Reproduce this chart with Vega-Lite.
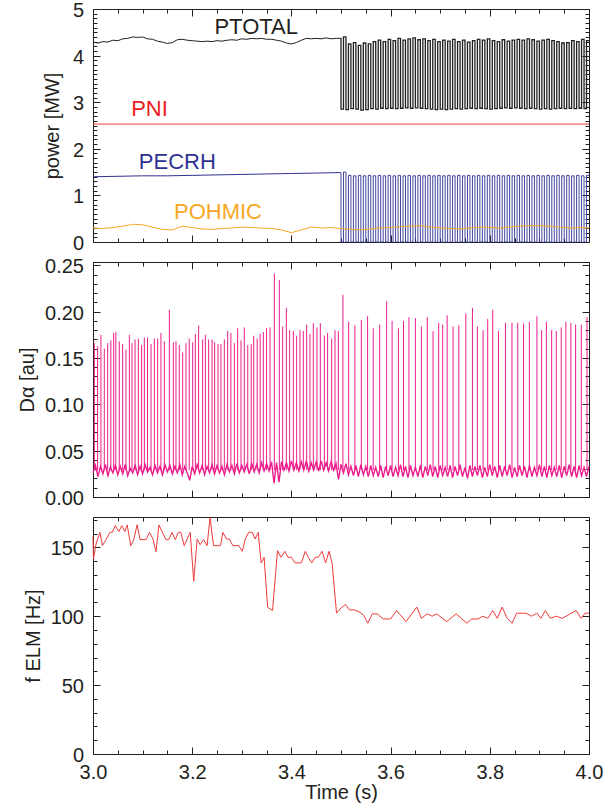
{
"$schema": "https://vega.github.io/schema/vega-lite/v6.json",
"padding": {"left": 17, "top": 0, "right": 0, "bottom": 0},
"bounds": "flush",
"spacing": 20,
"config": {
 "view": {"stroke": "#231f20", "strokeWidth": 1},
 "axis": {"labelFont": "Liberation Sans", "titleFont": "Liberation Sans", "labelFontSize": 20, "titleFontSize": 20, "titleFontWeight": "normal", "labelColor": "#231f20", "titleColor": "#231f20", "tickColor": "#231f20", "tickWidth": 1, "domain": false, "grid": false, "labelFlush": false, "labelOverlap": false},
 "text": {"font": "Liberation Sans"}
},
"datasets": {
 "ptot": [{"t":3.00,"v":4.29},{"t":3.01,"v":4.27},{"t":3.02,"v":4.30},{"t":3.03,"v":4.29},{"t":3.04,"v":4.33},{"t":3.05,"v":4.32},{"t":3.06,"v":4.36},{"t":3.07,"v":4.37},{"t":3.08,"v":4.40},{"t":3.09,"v":4.39},{"t":3.10,"v":4.40},{"t":3.11,"v":4.36},{"t":3.12,"v":4.35},{"t":3.13,"v":4.31},{"t":3.14,"v":4.29},{"t":3.15,"v":4.26},{"t":3.16,"v":4.28},{"t":3.17,"v":4.34},{"t":3.18,"v":4.35},{"t":3.19,"v":4.33},{"t":3.20,"v":4.32},{"t":3.21,"v":4.31},{"t":3.22,"v":4.30},{"t":3.23,"v":4.31},{"t":3.24,"v":4.30},{"t":3.25,"v":4.32},{"t":3.26,"v":4.31},{"t":3.27,"v":4.33},{"t":3.28,"v":4.34},{"t":3.29,"v":4.33},{"t":3.30,"v":4.36},{"t":3.31,"v":4.35},{"t":3.32,"v":4.37},{"t":3.33,"v":4.36},{"t":3.34,"v":4.37},{"t":3.35,"v":4.35},{"t":3.36,"v":4.35},{"t":3.37,"v":4.33},{"t":3.38,"v":4.31},{"t":3.39,"v":4.27},{"t":3.40,"v":4.25},{"t":3.41,"v":4.28},{"t":3.42,"v":4.33},{"t":3.43,"v":4.37},{"t":3.44,"v":4.36},{"t":3.45,"v":4.37},{"t":3.46,"v":4.36},{"t":3.47,"v":4.38},{"t":3.48,"v":4.36},{"t":3.49,"v":4.37},{"t":3.499,"v":4.37}],
 "pecrh": [{"t":3.00,"v":1.40},{"t":3.05,"v":1.41},{"t":3.10,"v":1.42},{"t":3.15,"v":1.42},{"t":3.20,"v":1.43},{"t":3.25,"v":1.44},{"t":3.30,"v":1.45},{"t":3.35,"v":1.46},{"t":3.40,"v":1.47},{"t":3.45,"v":1.48},{"t":3.499,"v":1.49}],
 "pohm": [{"t":3.00,"v":0.30},{"t":3.02,"v":0.29},{"t":3.04,"v":0.31},{"t":3.06,"v":0.34},{"t":3.08,"v":0.38},{"t":3.10,"v":0.37},{"t":3.12,"v":0.32},{"t":3.14,"v":0.27},{"t":3.16,"v":0.26},{"t":3.18,"v":0.34},{"t":3.20,"v":0.31},{"t":3.22,"v":0.28},{"t":3.24,"v":0.27},{"t":3.26,"v":0.29},{"t":3.28,"v":0.30},{"t":3.30,"v":0.32},{"t":3.32,"v":0.31},{"t":3.34,"v":0.30},{"t":3.36,"v":0.29},{"t":3.38,"v":0.26},{"t":3.40,"v":0.20},{"t":3.42,"v":0.26},{"t":3.44,"v":0.32},{"t":3.46,"v":0.30},{"t":3.48,"v":0.31},{"t":3.50,"v":0.29},{"t":3.52,"v":0.27},{"t":3.54,"v":0.26},{"t":3.56,"v":0.28},{"t":3.58,"v":0.30},{"t":3.60,"v":0.31},{"t":3.62,"v":0.33},{"t":3.64,"v":0.34},{"t":3.66,"v":0.35},{"t":3.68,"v":0.32},{"t":3.70,"v":0.30},{"t":3.72,"v":0.29},{"t":3.74,"v":0.28},{"t":3.76,"v":0.30},{"t":3.78,"v":0.32},{"t":3.80,"v":0.31},{"t":3.82,"v":0.30},{"t":3.84,"v":0.32},{"t":3.86,"v":0.34},{"t":3.88,"v":0.35},{"t":3.90,"v":0.35},{"t":3.92,"v":0.34},{"t":3.94,"v":0.32},{"t":3.96,"v":0.30},{"t":3.98,"v":0.31},{"t":4.00,"v":0.30}],
 "pni": [{"t":3.0,"v":2.53},{"t":4.0,"v":2.53}],
 "mod": [{"t":3.499,"a":4.37,"b":1.49},{"t":3.500,"a":2.85,"b":0},{"t":3.505,"a":4.40,"b":1.50},{"t":3.510,"a":2.84,"b":0},{"t":3.515,"a":4.25,"b":1.43},{"t":3.520,"a":2.86,"b":0},{"t":3.525,"a":4.28,"b":1.42},{"t":3.530,"a":2.85,"b":0},{"t":3.535,"a":4.22,"b":1.43},{"t":3.540,"a":2.83,"b":0},{"t":3.545,"a":4.27,"b":1.42},{"t":3.550,"a":2.84,"b":0},{"t":3.555,"a":4.25,"b":1.43},{"t":3.560,"a":2.86,"b":0},{"t":3.565,"a":4.30,"b":1.42},{"t":3.570,"a":2.85,"b":0},{"t":3.575,"a":4.33,"b":1.43},{"t":3.580,"a":2.87,"b":0},{"t":3.585,"a":4.30,"b":1.42},{"t":3.590,"a":2.86,"b":0},{"t":3.595,"a":4.35,"b":1.43},{"t":3.600,"a":2.87,"b":0},{"t":3.605,"a":4.32,"b":1.42},{"t":3.610,"a":2.86,"b":0},{"t":3.615,"a":4.37,"b":1.43},{"t":3.620,"a":2.87,"b":0},{"t":3.625,"a":4.33,"b":1.42},{"t":3.630,"a":2.88,"b":0},{"t":3.635,"a":4.36,"b":1.43},{"t":3.640,"a":2.87,"b":0},{"t":3.645,"a":4.38,"b":1.42},{"t":3.650,"a":2.88,"b":0},{"t":3.655,"a":4.34,"b":1.43},{"t":3.660,"a":2.87,"b":0},{"t":3.665,"a":4.36,"b":1.42},{"t":3.670,"a":2.86,"b":0},{"t":3.675,"a":4.32,"b":1.43},{"t":3.680,"a":2.85,"b":0},{"t":3.685,"a":4.35,"b":1.42},{"t":3.690,"a":2.84,"b":0},{"t":3.695,"a":4.30,"b":1.43},{"t":3.700,"a":2.85,"b":0},{"t":3.705,"a":4.33,"b":1.42},{"t":3.710,"a":2.84,"b":0},{"t":3.715,"a":4.31,"b":1.43},{"t":3.720,"a":2.85,"b":0},{"t":3.725,"a":4.35,"b":1.42},{"t":3.730,"a":2.86,"b":0},{"t":3.735,"a":4.30,"b":1.43},{"t":3.740,"a":2.85,"b":0},{"t":3.745,"a":4.33,"b":1.42},{"t":3.750,"a":2.86,"b":0},{"t":3.755,"a":4.29,"b":1.43},{"t":3.760,"a":2.87,"b":0},{"t":3.765,"a":4.32,"b":1.42},{"t":3.770,"a":2.86,"b":0},{"t":3.775,"a":4.35,"b":1.43},{"t":3.780,"a":2.87,"b":0},{"t":3.785,"a":4.33,"b":1.42},{"t":3.790,"a":2.86,"b":0},{"t":3.795,"a":4.36,"b":1.43},{"t":3.800,"a":2.85,"b":0},{"t":3.805,"a":4.32,"b":1.42},{"t":3.810,"a":2.86,"b":0},{"t":3.815,"a":4.30,"b":1.43},{"t":3.820,"a":2.87,"b":0},{"t":3.825,"a":4.34,"b":1.42},{"t":3.830,"a":2.88,"b":0},{"t":3.835,"a":4.31,"b":1.43},{"t":3.840,"a":2.87,"b":0},{"t":3.845,"a":4.33,"b":1.42},{"t":3.850,"a":2.88,"b":0},{"t":3.855,"a":4.35,"b":1.43},{"t":3.860,"a":2.87,"b":0},{"t":3.865,"a":4.33,"b":1.42},{"t":3.870,"a":2.86,"b":0},{"t":3.875,"a":4.36,"b":1.43},{"t":3.880,"a":2.87,"b":0},{"t":3.885,"a":4.34,"b":1.42},{"t":3.890,"a":2.86,"b":0},{"t":3.895,"a":4.31,"b":1.43},{"t":3.900,"a":2.85,"b":0},{"t":3.905,"a":4.33,"b":1.42},{"t":3.910,"a":2.86,"b":0},{"t":3.915,"a":4.35,"b":1.43},{"t":3.920,"a":2.85,"b":0},{"t":3.925,"a":4.32,"b":1.42},{"t":3.930,"a":2.86,"b":0},{"t":3.935,"a":4.30,"b":1.43},{"t":3.940,"a":2.87,"b":0},{"t":3.945,"a":4.27,"b":1.42},{"t":3.950,"a":2.86,"b":0},{"t":3.955,"a":4.28,"b":1.43},{"t":3.960,"a":2.87,"b":0},{"t":3.965,"a":4.32,"b":1.42},{"t":3.970,"a":2.86,"b":0},{"t":3.975,"a":4.30,"b":1.43},{"t":3.980,"a":2.87,"b":0},{"t":3.985,"a":4.35,"b":1.42},{"t":3.990,"a":2.86,"b":0},{"t":3.995,"a":4.32,"b":1.43},{"t":4.000,"a":4.32,"b":1.43}],
 "lbl": [{"t":3.329,"v":4.61,"s":"PTOTAL"},{"t":3.114,"v":2.85,"s":"PNI"},{"t":3.170,"v":1.72,"s":"PECRH"},{"t":3.252,"v":0.64,"s":"POHMIC"}],
 "dab": [{"t":3.000,"v":0.026},{"t":3.005,"v":0.034},{"t":3.010,"v":0.022},{"t":3.015,"v":0.033},{"t":3.020,"v":0.025},{"t":3.025,"v":0.035},{"t":3.030,"v":0.023},{"t":3.035,"v":0.032},{"t":3.040,"v":0.026},{"t":3.045,"v":0.034},{"t":3.050,"v":0.024},{"t":3.055,"v":0.033},{"t":3.060,"v":0.025},{"t":3.065,"v":0.035},{"t":3.070,"v":0.023},{"t":3.075,"v":0.031},{"t":3.080,"v":0.026},{"t":3.085,"v":0.034},{"t":3.090,"v":0.024},{"t":3.095,"v":0.033},{"t":3.100,"v":0.025},{"t":3.105,"v":0.035},{"t":3.110,"v":0.027},{"t":3.115,"v":0.032},{"t":3.120,"v":0.024},{"t":3.125,"v":0.034},{"t":3.130,"v":0.026},{"t":3.135,"v":0.033},{"t":3.140,"v":0.024},{"t":3.145,"v":0.035},{"t":3.150,"v":0.027},{"t":3.155,"v":0.034},{"t":3.160,"v":0.025},{"t":3.165,"v":0.033},{"t":3.170,"v":0.026},{"t":3.175,"v":0.035},{"t":3.180,"v":0.024},{"t":3.185,"v":0.033},{"t":3.190,"v":0.026},{"t":3.195,"v":0.018},{"t":3.200,"v":0.033},{"t":3.205,"v":0.025},{"t":3.210,"v":0.035},{"t":3.215,"v":0.026},{"t":3.220,"v":0.034},{"t":3.225,"v":0.024},{"t":3.230,"v":0.033},{"t":3.235,"v":0.026},{"t":3.240,"v":0.035},{"t":3.245,"v":0.025},{"t":3.250,"v":0.034},{"t":3.255,"v":0.026},{"t":3.260,"v":0.033},{"t":3.265,"v":0.024},{"t":3.270,"v":0.035},{"t":3.275,"v":0.027},{"t":3.280,"v":0.034},{"t":3.285,"v":0.025},{"t":3.290,"v":0.036},{"t":3.295,"v":0.026},{"t":3.300,"v":0.034},{"t":3.305,"v":0.027},{"t":3.310,"v":0.035},{"t":3.315,"v":0.025},{"t":3.320,"v":0.036},{"t":3.325,"v":0.027},{"t":3.330,"v":0.035},{"t":3.335,"v":0.026},{"t":3.340,"v":0.037},{"t":3.345,"v":0.028},{"t":3.350,"v":0.036},{"t":3.355,"v":0.028},{"t":3.360,"v":0.038},{"t":3.365,"v":0.015},{"t":3.370,"v":0.037},{"t":3.375,"v":0.016},{"t":3.380,"v":0.038},{"t":3.385,"v":0.029},{"t":3.390,"v":0.037},{"t":3.395,"v":0.028},{"t":3.400,"v":0.039},{"t":3.405,"v":0.029},{"t":3.410,"v":0.037},{"t":3.415,"v":0.028},{"t":3.420,"v":0.038},{"t":3.425,"v":0.029},{"t":3.430,"v":0.039},{"t":3.435,"v":0.028},{"t":3.440,"v":0.037},{"t":3.445,"v":0.029},{"t":3.450,"v":0.038},{"t":3.455,"v":0.028},{"t":3.460,"v":0.039},{"t":3.465,"v":0.029},{"t":3.470,"v":0.037},{"t":3.475,"v":0.028},{"t":3.480,"v":0.038},{"t":3.485,"v":0.029},{"t":3.490,"v":0.036},{"t":3.495,"v":0.019},{"t":3.500,"v":0.035},{"t":3.505,"v":0.026},{"t":3.510,"v":0.036},{"t":3.515,"v":0.024},{"t":3.520,"v":0.033},{"t":3.525,"v":0.023},{"t":3.530,"v":0.034},{"t":3.535,"v":0.022},{"t":3.540,"v":0.035},{"t":3.545,"v":0.024},{"t":3.550,"v":0.033},{"t":3.555,"v":0.022},{"t":3.560,"v":0.034},{"t":3.565,"v":0.023},{"t":3.570,"v":0.032},{"t":3.575,"v":0.022},{"t":3.580,"v":0.034},{"t":3.585,"v":0.021},{"t":3.590,"v":0.033},{"t":3.595,"v":0.023},{"t":3.600,"v":0.034},{"t":3.605,"v":0.022},{"t":3.610,"v":0.032},{"t":3.615,"v":0.023},{"t":3.620,"v":0.035},{"t":3.625,"v":0.022},{"t":3.630,"v":0.033},{"t":3.635,"v":0.021},{"t":3.640,"v":0.034},{"t":3.645,"v":0.023},{"t":3.650,"v":0.032},{"t":3.655,"v":0.022},{"t":3.660,"v":0.034},{"t":3.665,"v":0.021},{"t":3.670,"v":0.033},{"t":3.675,"v":0.023},{"t":3.680,"v":0.035},{"t":3.685,"v":0.022},{"t":3.690,"v":0.033},{"t":3.695,"v":0.021},{"t":3.700,"v":0.034},{"t":3.705,"v":0.023},{"t":3.710,"v":0.032},{"t":3.715,"v":0.022},{"t":3.720,"v":0.034},{"t":3.725,"v":0.021},{"t":3.730,"v":0.033},{"t":3.735,"v":0.023},{"t":3.740,"v":0.035},{"t":3.745,"v":0.022},{"t":3.750,"v":0.032},{"t":3.755,"v":0.020},{"t":3.760,"v":0.034},{"t":3.765,"v":0.022},{"t":3.770,"v":0.033},{"t":3.775,"v":0.023},{"t":3.780,"v":0.034},{"t":3.785,"v":0.021},{"t":3.790,"v":0.032},{"t":3.795,"v":0.022},{"t":3.800,"v":0.035},{"t":3.805,"v":0.023},{"t":3.810,"v":0.033},{"t":3.815,"v":0.021},{"t":3.820,"v":0.034},{"t":3.825,"v":0.022},{"t":3.830,"v":0.033},{"t":3.835,"v":0.023},{"t":3.840,"v":0.035},{"t":3.845,"v":0.021},{"t":3.850,"v":0.032},{"t":3.855,"v":0.022},{"t":3.860,"v":0.034},{"t":3.865,"v":0.023},{"t":3.870,"v":0.033},{"t":3.875,"v":0.021},{"t":3.880,"v":0.034},{"t":3.885,"v":0.022},{"t":3.890,"v":0.032},{"t":3.895,"v":0.023},{"t":3.900,"v":0.035},{"t":3.905,"v":0.022},{"t":3.910,"v":0.033},{"t":3.915,"v":0.021},{"t":3.920,"v":0.034},{"t":3.925,"v":0.023},{"t":3.930,"v":0.032},{"t":3.935,"v":0.022},{"t":3.940,"v":0.034},{"t":3.945,"v":0.021},{"t":3.950,"v":0.033},{"t":3.955,"v":0.023},{"t":3.960,"v":0.035},{"t":3.965,"v":0.022},{"t":3.970,"v":0.033},{"t":3.975,"v":0.021},{"t":3.980,"v":0.034},{"t":3.985,"v":0.023},{"t":3.990,"v":0.032},{"t":3.995,"v":0.022},{"t":4.000,"v":0.033}],
 "elm": [{"t":3.0027,"p":0.166},{"t":3.0093,"p":0.1625},{"t":3.016,"p":0.175},{"t":3.0228,"p":0.160},{"t":3.0296,"p":0.166},{"t":3.036,"p":0.169},{"t":3.0417,"p":0.177},{"t":3.046,"p":0.178},{"t":3.053,"p":0.168},{"t":3.0598,"p":0.165},{"t":3.0665,"p":0.159},{"t":3.0733,"p":0.175},{"t":3.0786,"p":0.166},{"t":3.0847,"p":0.170},{"t":3.0914,"p":0.171},{"t":3.098,"p":0.164},{"t":3.1035,"p":0.172},{"t":3.110,"p":0.172},{"t":3.117,"p":0.165},{"t":3.1237,"p":0.171},{"t":3.1304,"p":0.171},{"t":3.137,"p":0.177},{"t":3.1438,"p":0.168},{"t":3.1539,"p":0.202},{"t":3.162,"p":0.167},{"t":3.1673,"p":0.168},{"t":3.174,"p":0.164},{"t":3.1808,"p":0.156},{"t":3.1875,"p":0.166},{"t":3.194,"p":0.171},{"t":3.201,"p":0.167},{"t":3.2063,"p":0.176},{"t":3.213,"p":0.185},{"t":3.221,"p":0.170},{"t":3.2265,"p":0.175},{"t":3.2332,"p":0.170},{"t":3.240,"p":0.170},{"t":3.2453,"p":0.167},{"t":3.252,"p":0.165},{"t":3.258,"p":0.165},{"t":3.2648,"p":0.170},{"t":3.2715,"p":0.179},{"t":3.278,"p":0.177},{"t":3.285,"p":0.166},{"t":3.2917,"p":0.182},{"t":3.2984,"p":0.169},{"t":3.305,"p":0.183},{"t":3.312,"p":0.164},{"t":3.319,"p":0.165},{"t":3.324,"p":0.174},{"t":3.331,"p":0.171},{"t":3.337,"p":0.176},{"t":3.3434,"p":0.178},{"t":3.350,"p":0.182},{"t":3.3569,"p":0.183},{"t":3.3656,"p":0.241},{"t":3.3757,"p":0.234},{"t":3.3824,"p":0.184},{"t":3.3898,"p":0.204},{"t":3.3965,"p":0.180},{"t":3.4039,"p":0.179},{"t":3.4106,"p":0.174},{"t":3.4173,"p":0.180},{"t":3.424,"p":0.179},{"t":3.4308,"p":0.186},{"t":3.4375,"p":0.176},{"t":3.4442,"p":0.1875},{"t":3.4516,"p":0.183},{"t":3.4583,"p":0.1875},{"t":3.4664,"p":0.174},{"t":3.473,"p":0.177},{"t":3.4812,"p":0.171},{"t":3.4879,"p":0.180},{"t":3.4946,"p":0.179},{"t":3.5039,"p":0.218},{"t":3.5155,"p":0.189},{"t":3.528,"p":0.185},{"t":3.541,"p":0.191},{"t":3.5536,"p":0.195},{"t":3.565,"p":0.182},{"t":3.578,"p":0.186},{"t":3.592,"p":0.211},{"t":3.603,"p":0.190},{"t":3.6157,"p":0.182},{"t":3.626,"p":0.190},{"t":3.637,"p":0.194},{"t":3.650,"p":0.193},{"t":3.662,"p":0.184},{"t":3.674,"p":0.194},{"t":3.6856,"p":0.179},{"t":3.697,"p":0.188},{"t":3.705,"p":0.186},{"t":3.714,"p":0.196},{"t":3.726,"p":0.184},{"t":3.7376,"p":0.185},{"t":3.7516,"p":0.198},{"t":3.765,"p":0.204},{"t":3.775,"p":0.184},{"t":3.7865,"p":0.180},{"t":3.7958,"p":0.192},{"t":3.806,"p":0.202},{"t":3.8175,"p":0.179},{"t":3.8315,"p":0.188},{"t":3.8447,"p":0.188},{"t":3.8564,"p":0.188},{"t":3.868,"p":0.187},{"t":3.8797,"p":0.189},{"t":3.895,"p":0.195},{"t":3.9045,"p":0.180},{"t":3.914,"p":0.189},{"t":3.9247,"p":0.180},{"t":3.934,"p":0.179},{"t":3.944,"p":0.183},{"t":3.9534,"p":0.189},{"t":3.9635,"p":0.188},{"t":3.973,"p":0.186},{"t":3.9845,"p":0.186},{"t":3.996,"p":0.194}],
 "felm": [{"t":3.000,"v":157.7},{"t":3.001,"v":141.5},{"t":3.006,"v":152.4},{"t":3.014,"v":160.9},{"t":3.019,"v":151.2},{"t":3.027,"v":156.0},{"t":3.034,"v":160.9},{"t":3.039,"v":160.9},{"t":3.045,"v":165.7},{"t":3.052,"v":161.4},{"t":3.058,"v":165.7},{"t":3.064,"v":161.4},{"t":3.069,"v":166.2},{"t":3.076,"v":151.2},{"t":3.082,"v":155.3},{"t":3.089,"v":166.4},{"t":3.095,"v":155.6},{"t":3.107,"v":155.6},{"t":3.114,"v":160.9},{"t":3.121,"v":156.0},{"t":3.127,"v":146.9},{"t":3.133,"v":166.2},{"t":3.141,"v":160.1},{"t":3.147,"v":155.6},{"t":3.153,"v":155.6},{"t":3.159,"v":160.9},{"t":3.166,"v":155.6},{"t":3.172,"v":160.9},{"t":3.177,"v":160.9},{"t":3.184,"v":151.2},{"t":3.196,"v":160.9},{"t":3.203,"v":125.4},{"t":3.210,"v":156.0},{"t":3.216,"v":151.9},{"t":3.223,"v":155.6},{"t":3.230,"v":151.2},{"t":3.236,"v":171.7},{"t":3.243,"v":151.2},{"t":3.257,"v":151.2},{"t":3.262,"v":160.9},{"t":3.269,"v":156.0},{"t":3.275,"v":156.0},{"t":3.282,"v":151.2},{"t":3.294,"v":151.2},{"t":3.301,"v":147.1},{"t":3.307,"v":156.0},{"t":3.314,"v":160.9},{"t":3.321,"v":160.9},{"t":3.327,"v":156.0},{"t":3.333,"v":160.9},{"t":3.339,"v":138.7},{"t":3.345,"v":142.8},{"t":3.352,"v":106.5},{"t":3.362,"v":104.1},{"t":3.372,"v":147.6},{"t":3.379,"v":142.8},{"t":3.387,"v":147.1},{"t":3.393,"v":142.8},{"t":3.400,"v":142.8},{"t":3.407,"v":138.7},{"t":3.420,"v":138.7},{"t":3.428,"v":147.1},{"t":3.434,"v":142.8},{"t":3.441,"v":138.7},{"t":3.448,"v":142.8},{"t":3.454,"v":142.8},{"t":3.462,"v":147.1},{"t":3.469,"v":138.7},{"t":3.476,"v":147.1},{"t":3.482,"v":138.7},{"t":3.491,"v":102.2},{"t":3.500,"v":106.0},{"t":3.509,"v":108.5},{"t":3.517,"v":104.6},{"t":3.527,"v":104.6},{"t":3.538,"v":102.9},{"t":3.546,"v":100.5},{"t":3.554,"v":94.9},{"t":3.563,"v":101.7},{"t":3.573,"v":101.7},{"t":3.585,"v":98.0},{"t":3.600,"v":98.0},{"t":3.612,"v":104.1},{"t":3.631,"v":96.1},{"t":3.653,"v":106.6},{"t":3.662,"v":98.5},{"t":3.674,"v":101.7},{"t":3.684,"v":100.0},{"t":3.693,"v":101.7},{"t":3.713,"v":96.1},{"t":3.732,"v":101.7},{"t":3.754,"v":94.9},{"t":3.763,"v":98.0},{"t":3.776,"v":98.0},{"t":3.786,"v":100.0},{"t":3.796,"v":98.5},{"t":3.806,"v":104.1},{"t":3.815,"v":98.5},{"t":3.825,"v":106.6},{"t":3.835,"v":98.5},{"t":3.845,"v":94.9},{"t":3.854,"v":102.2},{"t":3.873,"v":102.2},{"t":3.884,"v":100.0},{"t":3.895,"v":102.2},{"t":3.903,"v":98.5},{"t":3.912,"v":104.1},{"t":3.922,"v":98.5},{"t":3.934,"v":100.0},{"t":3.946,"v":98.5},{"t":3.974,"v":104.1},{"t":3.984,"v":98.5},{"t":3.992,"v":102.2},{"t":4.000,"v":102.2}]
},
"vconcat": [
 {
  "width": 496, "height": 233,
  "resolve": {"axis": {"x": "independent", "y": "independent"}},
  "layer": [
   {"data": {"name": "mod"}, "mark": {"type": "line", "interpolate": "step-after", "color": "#2e3192", "strokeWidth": 0.9},
    "encoding": {"x": {"field": "t", "type": "quantitative", "scale": {"domain": [3, 4], "nice": false}, "axis": null},
                 "y": {"field": "b", "type": "quantitative", "scale": {"domain": [0, 5], "nice": false}, "axis": null}}},
   {"data": {"name": "mod"}, "mark": {"type": "line", "interpolate": "step-after", "color": "#231f20", "strokeWidth": 1.3},
    "encoding": {"x": {"field": "t", "type": "quantitative", "scale": {"domain": [3, 4], "nice": false}, "axis": null},
                 "y": {"field": "a", "type": "quantitative", "scale": {"domain": [0, 5], "nice": false}, "axis": null}}},
   {"data": {"name": "ptot"}, "mark": {"type": "line", "color": "#231f20", "strokeWidth": 1},
    "encoding": {"x": {"field": "t", "type": "quantitative", "scale": {"domain": [3, 4], "nice": false},
                       "axis": {"orient": "bottom", "values": [3, 3.2, 3.4, 3.6, 3.8, 4], "tickSize": -7, "labels": false, "title": null}},
                 "y": {"field": "v", "type": "quantitative", "scale": {"domain": [0, 5], "nice": false},
                       "axis": {"orient": "left", "values": [0, 1, 2, 3, 4, 5], "tickSize": -7, "format": "d", "labelPadding": 16.5, "labelOffset": 1.5, "title": "power [MW]", "titlePadding": 10}}}},
   {"data": {"name": "pecrh"}, "mark": {"type": "line", "color": "#2e3192", "strokeWidth": 1},
    "encoding": {"x": {"field": "t", "type": "quantitative", "scale": {"domain": [3, 4], "nice": false},
                       "axis": {"orient": "bottom", "values": [3.05, 3.1, 3.15, 3.25, 3.3, 3.35, 3.45, 3.5, 3.55, 3.65, 3.7, 3.75, 3.85, 3.9, 3.95], "tickSize": -4, "labels": false, "title": null}},
                 "y": {"field": "v", "type": "quantitative", "scale": {"domain": [0, 5], "nice": false},
                       "axis": {"orient": "left", "values": [0.1,0.2,0.3,0.4,0.5,0.6,0.7,0.8,0.9,1.1,1.2,1.3,1.4,1.5,1.6,1.7,1.8,1.9,2.1,2.2,2.3,2.4,2.5,2.6,2.7,2.8,2.9,3.1,3.2,3.3,3.4,3.5,3.6,3.7,3.8,3.9,4.1,4.2,4.3,4.4,4.5,4.6,4.7,4.8,4.9], "tickSize": -4, "labels": false, "title": null}}}},
   {"data": {"name": "pni"}, "mark": {"type": "line", "color": "#ee3a3a", "strokeWidth": 1},
    "encoding": {"x": {"field": "t", "type": "quantitative", "scale": {"domain": [3, 4], "nice": false},
                       "axis": {"orient": "top", "values": [3, 3.2, 3.4, 3.6, 3.8, 4], "tickSize": -7, "labels": false, "title": null}},
                 "y": {"field": "v", "type": "quantitative", "scale": {"domain": [0, 5], "nice": false},
                       "axis": {"orient": "right", "values": [0, 1, 2, 3, 4, 5], "tickSize": -7, "labels": false, "title": null}}}},
   {"data": {"name": "pohm"}, "mark": {"type": "line", "color": "#f7a823", "strokeWidth": 1},
    "encoding": {"x": {"field": "t", "type": "quantitative", "scale": {"domain": [3, 4], "nice": false},
                       "axis": {"orient": "top", "values": [3.05, 3.1, 3.15, 3.25, 3.3, 3.35, 3.45, 3.5, 3.55, 3.65, 3.7, 3.75, 3.85, 3.9, 3.95], "tickSize": -4, "labels": false, "title": null}},
                 "y": {"field": "v", "type": "quantitative", "scale": {"domain": [0, 5], "nice": false},
                       "axis": {"orient": "right", "values": [0.1,0.2,0.3,0.4,0.5,0.6,0.7,0.8,0.9,1.1,1.2,1.3,1.4,1.5,1.6,1.7,1.8,1.9,2.1,2.2,2.3,2.4,2.5,2.6,2.7,2.8,2.9,3.1,3.2,3.3,3.4,3.5,3.6,3.7,3.8,3.9,4.1,4.2,4.3,4.4,4.5,4.6,4.7,4.8,4.9], "tickSize": -4, "labels": false, "title": null}}}},
   {"data": {"name": "lbl"}, "mark": {"type": "text", "fontSize": 22, "align": "center", "baseline": "middle", "font": "Liberation Sans"},
    "encoding": {"x": {"field": "t", "type": "quantitative", "scale": {"domain": [3, 4], "nice": false}, "axis": null},
                 "y": {"field": "v", "type": "quantitative", "scale": {"domain": [0, 5], "nice": false}, "axis": null},
                 "text": {"field": "s"},
                 "color": {"field": "s", "type": "nominal", "scale": {"domain": ["PTOTAL", "PNI", "PECRH", "POHMIC"], "range": ["#231f20", "#ed1c24", "#2e3192", "#f7a823"]}, "legend": null}}}
  ]
 },
 {
  "width": 496, "height": 235,
  "resolve": {"axis": {"x": "independent", "y": "independent"}},
  "layer": [
   {"data": {"name": "dab"}, "transform": [{"filter": "datum.t <= 3.5"}], "mark": {"type": "line", "color": "#ec1c8c", "strokeWidth": 1.4},
    "encoding": {"x": {"field": "t", "type": "quantitative", "scale": {"domain": [3, 4], "nice": false},
                       "axis": {"orient": "bottom", "values": [3, 3.2, 3.4, 3.6, 3.8, 4], "tickSize": -7, "labels": false, "title": null}},
                 "y": {"field": "v", "type": "quantitative", "scale": {"domain": [0, 0.2535], "nice": false},
                       "axis": {"orient": "left", "values": [0, 0.05, 0.1, 0.15, 0.2, 0.25], "tickSize": -7, "format": ".2f", "labelPadding": 16.5, "labelOffset": 1.5, "title": "Dα [au]", "titlePadding": 7}}}},
   {"data": {"name": "dab"}, "transform": [{"filter": "datum.t >= 3.5"}], "mark": {"type": "line", "color": "#ec1c8c", "strokeWidth": 1.4},
    "encoding": {"x": {"field": "t", "type": "quantitative", "scale": {"domain": [3, 4], "nice": false},
                       "axis": {"orient": "bottom", "values": [3.05, 3.1, 3.15, 3.25, 3.3, 3.35, 3.45, 3.5, 3.55, 3.65, 3.7, 3.75, 3.85, 3.9, 3.95], "tickSize": -4, "labels": false, "title": null}},
                 "y": {"field": "v", "type": "quantitative", "scale": {"domain": [0, 0.2535], "nice": false},
                       "axis": {"orient": "left", "values": [0.01,0.02,0.03,0.04,0.06,0.07,0.08,0.09,0.11,0.12,0.13,0.14,0.16,0.17,0.18,0.19,0.21,0.22,0.23,0.24], "tickSize": -4, "labels": false, "title": null}}}},
   {"data": {"name": "elm"}, "transform": [{"filter": "datum.t < 3.5"}], "mark": {"type": "rule", "color": "#ec1c8c", "strokeWidth": 1},
    "encoding": {"x": {"field": "t", "type": "quantitative", "scale": {"domain": [3, 4], "nice": false},
                       "axis": {"orient": "top", "values": [3, 3.2, 3.4, 3.6, 3.8, 4], "tickSize": -7, "labels": false, "title": null}},
                 "y": {"field": "p", "type": "quantitative", "scale": {"domain": [0, 0.2535], "nice": false},
                       "axis": {"orient": "right", "values": [0, 0.05, 0.1, 0.15, 0.2, 0.25], "tickSize": -7, "labels": false, "title": null}},
                 "y2": {"datum": 0.029}}},
   {"data": {"name": "elm"}, "transform": [{"filter": "datum.t >= 3.5"}], "mark": {"type": "rule", "color": "#ec1c8c", "strokeWidth": 1},
    "encoding": {"x": {"field": "t", "type": "quantitative", "scale": {"domain": [3, 4], "nice": false},
                       "axis": {"orient": "top", "values": [3.05, 3.1, 3.15, 3.25, 3.3, 3.35, 3.45, 3.5, 3.55, 3.65, 3.7, 3.75, 3.85, 3.9, 3.95], "tickSize": -4, "labels": false, "title": null}},
                 "y": {"field": "p", "type": "quantitative", "scale": {"domain": [0, 0.2535], "nice": false},
                       "axis": {"orient": "right", "values": [0.01,0.02,0.03,0.04,0.06,0.07,0.08,0.09,0.11,0.12,0.13,0.14,0.16,0.17,0.18,0.19,0.21,0.22,0.23,0.24], "tickSize": -4, "labels": false, "title": null}},
                 "y2": {"datum": 0.029}}}
  ]
 },
 {
  "width": 496, "height": 237,
  "resolve": {"axis": {"x": "independent", "y": "independent"}},
  "layer": [
   {"data": {"name": "felm"}, "transform": [{"filter": "datum.t <= 3.236"}], "mark": {"type": "line", "color": "#ef3b3b", "strokeWidth": 1},
    "encoding": {"x": {"field": "t", "type": "quantitative", "scale": {"domain": [3, 4], "nice": false},
                       "axis": {"orient": "bottom", "values": [3, 3.2, 3.4, 3.6, 3.8, 4], "tickSize": -7, "format": ".1f", "labelPadding": 15, "title": "Time (s)", "titlePadding": 0}},
                 "y": {"field": "v", "type": "quantitative", "scale": {"domain": [0, 172], "nice": false},
                       "axis": {"orient": "left", "values": [0, 50, 100, 150], "tickSize": -7, "format": "d", "labelPadding": 16.5, "labelOffset": 1.5, "title": "f ELM [Hz]", "titlePadding": 7}}}},
   {"data": {"name": "felm"}, "transform": [{"filter": "datum.t >= 3.236 && datum.t <= 3.5"}], "mark": {"type": "line", "color": "#ef3b3b", "strokeWidth": 1},
    "encoding": {"x": {"field": "t", "type": "quantitative", "scale": {"domain": [3, 4], "nice": false},
                       "axis": {"orient": "bottom", "values": [3.05, 3.1, 3.15, 3.25, 3.3, 3.35, 3.45, 3.5, 3.55, 3.65, 3.7, 3.75, 3.85, 3.9, 3.95], "tickSize": -4, "labels": false, "title": null}},
                 "y": {"field": "v", "type": "quantitative", "scale": {"domain": [0, 172], "nice": false},
                       "axis": {"orient": "left", "values": [10,20,30,40,60,70,80,90,110,120,130,140,160,170], "tickSize": -4, "labels": false, "title": null}}}},
   {"data": {"name": "felm"}, "transform": [{"filter": "datum.t >= 3.5 && datum.t <= 3.754"}], "mark": {"type": "line", "color": "#ef3b3b", "strokeWidth": 1},
    "encoding": {"x": {"field": "t", "type": "quantitative", "scale": {"domain": [3, 4], "nice": false},
                       "axis": {"orient": "top", "values": [3, 3.2, 3.4, 3.6, 3.8, 4], "tickSize": -7, "labels": false, "title": null}},
                 "y": {"field": "v", "type": "quantitative", "scale": {"domain": [0, 172], "nice": false},
                       "axis": {"orient": "right", "values": [0, 50, 100, 150], "tickSize": -7, "labels": false, "title": null}}}},
   {"data": {"name": "felm"}, "transform": [{"filter": "datum.t >= 3.754"}], "mark": {"type": "line", "color": "#ef3b3b", "strokeWidth": 1},
    "encoding": {"x": {"field": "t", "type": "quantitative", "scale": {"domain": [3, 4], "nice": false},
                       "axis": {"orient": "top", "values": [3.05, 3.1, 3.15, 3.25, 3.3, 3.35, 3.45, 3.5, 3.55, 3.65, 3.7, 3.75, 3.85, 3.9, 3.95], "tickSize": -4, "labels": false, "title": null}},
                 "y": {"field": "v", "type": "quantitative", "scale": {"domain": [0, 172], "nice": false},
                       "axis": {"orient": "right", "values": [10,20,30,40,60,70,80,90,110,120,130,140,160,170], "tickSize": -4, "labels": false, "title": null}}}}
  ]
 }
]
}
